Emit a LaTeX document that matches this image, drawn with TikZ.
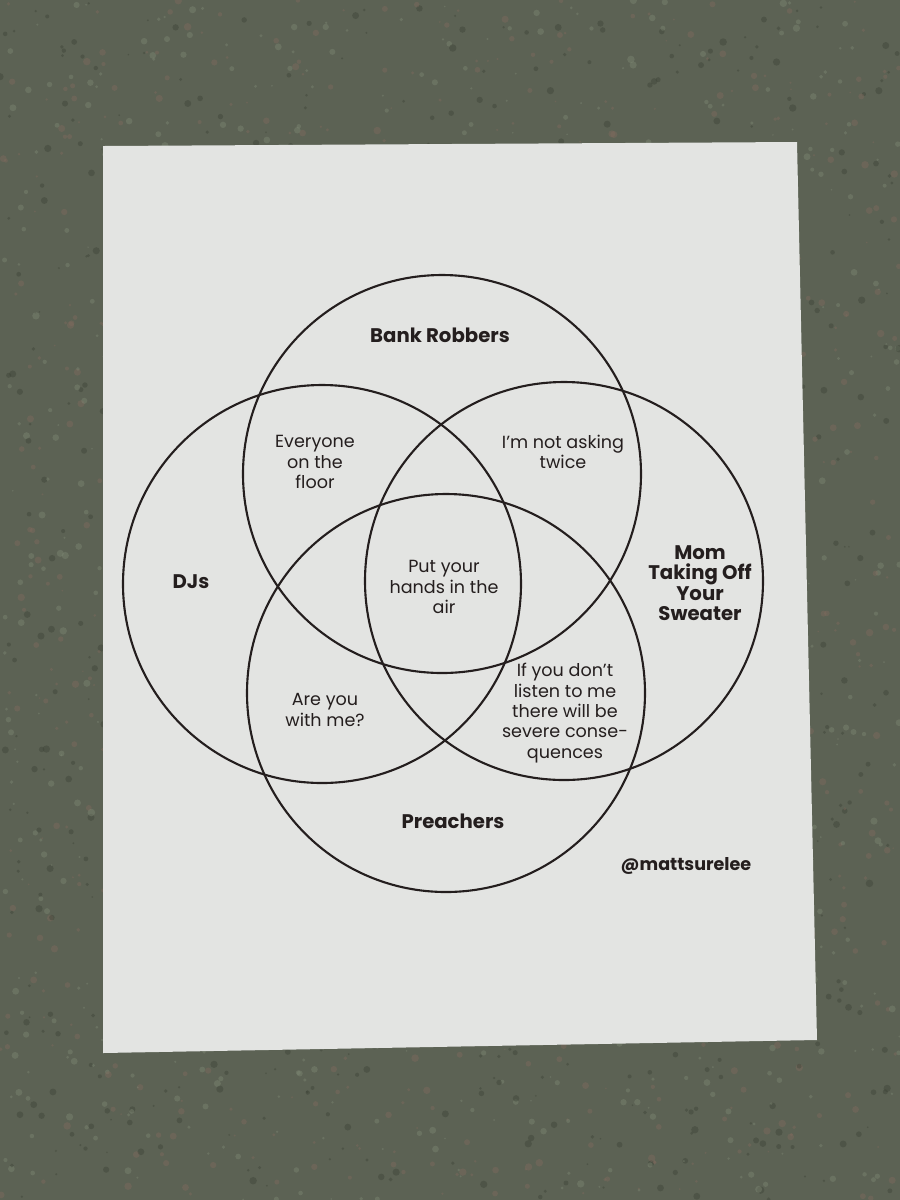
\documentclass[tikz,border=0pt]{standalone}
\usepackage{fontspec}
\setmainfont{Poppins}
\definecolor{granite}{RGB}{92,98,84}
\definecolor{stoneA}{RGB}{130,106,94}
\definecolor{stoneB}{RGB}{128,138,118}
\definecolor{stoneC}{RGB}{58,64,52}
\definecolor{paper}{RGB}{227,228,226}
\definecolor{ink}{RGB}{36,30,30}
\tikzset{
  setname/.style={font=\bfseries\fontsize{5.6}{5.8}\selectfont, text=ink, align=center, inner sep=0pt},
  overlap/.style={font=\fontsize{5}{5.8}\selectfont, text=ink, align=center, inner sep=0pt},
  ring/.style={draw=ink, line width=0.6pt}
}
\pgfmathdeclarerandomlist{stone}{{stoneA}{stoneB}{stoneC}}
\begin{document}
\begin{tikzpicture}
  \def\R{1.99};
  \def\Xb{4.42}; \def\Yb{-4.74};
  \def\Xd{3.22}; \def\Yd{-5.84};
  \def\Xm{5.64}; \def\Ym{-5.81};
  \def\Xp{4.46}; \def\Yp{-6.93};

  \useasboundingbox (0,0) rectangle (9,-12);
  % countertop
  \fill[granite] (0,0) rectangle (9,-12);
  \pgfmathsetseed{11}
  \foreach \i in {1,...,2600} {
    \pgfmathsetmacro\px{rnd*9}
    \pgfmathsetmacro\py{-rnd*12}
    \pgfmathsetmacro\s{0.008+rnd*0.03}
    \pgfmathrandomitem{\c}{stone}
    \fill[\c, opacity=0.4] (\px,\py) circle (\s);
  }
  % sheet
  \fill[paper] (1.03,-1.46) -- (7.97,-1.42) -- (8.17,-10.40) -- (1.03,-10.53) -- cycle;

  % circles
  \draw[ring] (\Xb, \Yb) circle (\R);
  \draw[ring] (\Xd, \Yd) circle (\R);
  \draw[ring] (\Xm, \Ym) circle (\R);
  \draw[ring] (\Xp, \Yp) circle (\R);

  % set names
  \node[setname] (bank) at (4.40, -3.35) {Bank Robbers};
  \node[setname] (djs) at (1.91, -5.82) {DJs};
  \node[setname] (mom) at (7.00, -5.83) {Mom\\Taking Off\\Your\\Sweater};
  \node[setname] (preach) at (4.53, -8.21) {Preachers};

  % overlaps
  \node[overlap] (floor) at (3.15, -4.62) {Everyone\\on the\\floor};
  \node[overlap] (twice) at (5.63, -4.52) {I’m not asking\\twice};
  \node[overlap] (hands) at (4.44, -5.87) {Put your\\hands in the\\air};
  \node[overlap] (withme) at (3.25, -7.10) {Are you\\with me?};
  \node[overlap] (conseq) at (5.65, -7.13) {If you don’t\\listen to me\\there will be\\severe conse-\\quences};

  % credit
  \node[setname, font=\bfseries\fontsize{5}{5.8}\selectfont] (handle) at (6.86, -8.66) {@mattsurelee};
\end{tikzpicture}
\end{document}
